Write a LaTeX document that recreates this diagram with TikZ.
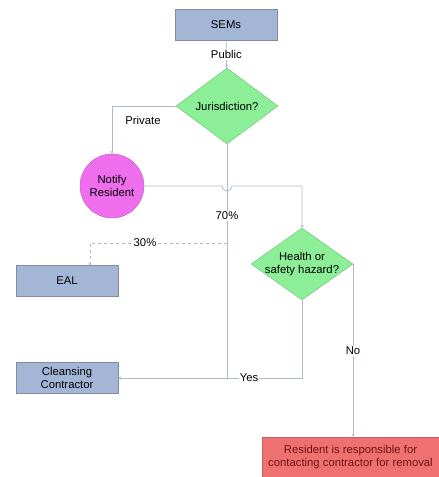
\documentclass[tikz,border=0pt]{standalone}
\usepackage{fontspec}
\setmainfont{Liberation Sans}
\usetikzlibrary{shapes.geometric,arrows.meta}
\definecolor{boxfill}{RGB}{163,182,214}
\definecolor{boxdraw}{RGB}{130,140,160}
\definecolor{dfill}{RGB}{140,238,150}
\definecolor{cfill}{RGB}{238,110,238}
\definecolor{rfill}{RGB}{238,112,112}
\definecolor{rtext}{RGB}{110,20,20}
\definecolor{lncol}{RGB}{175,185,205}
\tikzset{
  txt/.style={font=\fontsize{11.3}{12.5}\selectfont},
  bluebox/.style={txt,draw=boxdraw,fill=boxfill,minimum width=102pt,minimum height=31pt,inner sep=1pt,align=center},
  decision/.style={diamond,draw=dfill!80!black,fill=dfill,minimum width=102pt,minimum height=76pt,aspect=1.33,inner sep=0pt},
  conn/.style={draw=lncol,line width=0.8pt,-{Stealth[length=3pt,width=3pt]}},
  lbl/.style={txt,fill=white,inner sep=1pt},
}
\begin{document}
\begin{tikzpicture}[x=1pt,y=-1pt]
\useasboundingbox (0,0) rectangle (439,477);
\node[bluebox] (sems) at (226,25) {SEMs};
\node[decision] (jur) at (227,106) {};
\node[txt] (jurt) at (jur) {Jurisdiction?};
\node[txt,circle,draw=cfill!80!black,fill=cfill,minimum size=64pt,inner sep=0pt,align=center] (notify) at (112,186) {Notify\\Resident};
\node[decision,minimum height=72pt] (health) at (302,264) {};
\node[txt,align=center] (healtht) at (health) {Health or\\safety hazard?};
\node[bluebox] (eal) at (67,281) {EAL};
\node[bluebox] (cc) at (67,378) {Cleansing\\Contractor};
\node[txt,draw=rfill!85!black,fill=rfill,minimum width=177pt,minimum height=40pt,inner sep=1pt,align=center,text=rtext] (res) at (350.5,457) {Resident is responsible for\\contacting contractor for removal};
\coordinate (j70) at (227,243);
\coordinate (jy) at (227,378);
\coordinate (ealin) at (90,266);
% connectors
\draw[conn] (sems) -- node[lbl,pos=0.5]{Public} (jur);
\draw[conn] (jur.west) -| (notify.north);
\node[lbl] (priv) at (143,120) {Private};
\draw[conn] (notify.east) -- (222,186) arc[start angle=180,end angle=0,radius=5] -- (302,186) -- (health.north);
\draw[draw=lncol,line width=0.8pt] (jur.south) -- (jy);
\node[lbl] (p70) at (227,216) {70\%};
\draw[conn,dashed] (j70) -| (ealin);
\node[lbl] (p30) at (145,243) {30\%};
\draw[conn] (health.south) |- (cc.east);
\node[lbl] (yes) at (249,378) {Yes};
\draw[conn] (health.east) -- (res.north -| health.east);
\node[lbl] (no) at (353,351) {No};
\end{tikzpicture}
\end{document}
